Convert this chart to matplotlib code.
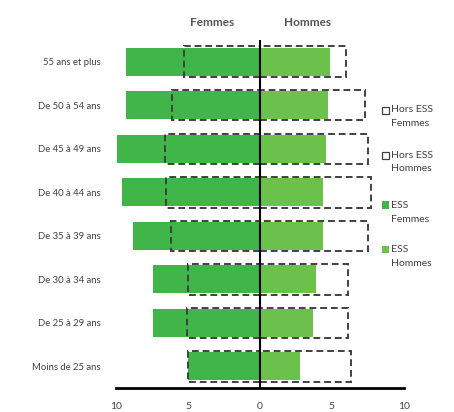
import numpy as np
import matplotlib
matplotlib.use("Agg")
import matplotlib.pyplot as plt
from matplotlib.patches import Rectangle

# tranches d'age (haut -> bas)
tranches = ["55 ans et plus", "De 50 à 54 ans", "De 45 à 49 ans", "De 40 à 44 ans",
            "De 35 à 39 ans", "De 30 à 34 ans", "De 25 à 29 ans", "Moins de 25 ans"]
ess_femmes = [9.3, 9.3, 9.9, 9.6, 8.8, 7.4, 7.4, 5.0]
hors_ess_femmes = [5.3, 6.1, 6.6, 6.5, 6.2, 5.0, 5.1, 5.0]
ess_hommes = [4.9, 4.7, 4.6, 4.4, 4.4, 3.9, 3.7, 2.8]
hors_ess_hommes = [6.0, 7.3, 7.5, 7.7, 7.5, 6.1, 6.1, 6.3]
ticks = [-10, -5, 0, 5, 10]
tick_labels = ["10", "5", "0", "5", "10"]
legende = ["Hors ESS\nFemmes", "Hors ESS\nHommes", "ESS\nFemmes", "ESS\nHommes"]

vert_f = "#3fb54a"
vert_h = "#6cc04c"
gris = "#404040"

plt.rcParams['font.family'] = ['Lato', 'DejaVu Sans']

fig = plt.figure(figsize=(4.54, 4.12), dpi=100)
ax = fig.add_axes([0.2555, 0.058, 0.634, 0.845])

y = np.arange(len(tranches))[::-1]

ax.barh(y, -np.array(ess_femmes), height=0.64, color=vert_f, zorder=1)
ax.barh(y, ess_hommes, height=0.64, color=vert_h, zorder=1)
ax.barh(y, -np.array(hors_ess_femmes), height=0.7, facecolor="none", edgecolor=gris,
        linestyle=(0, (3.5, 2)), linewidth=1.4, zorder=2)
ax.barh(y, hors_ess_hommes, height=0.7, facecolor="none", edgecolor=gris,
        linestyle=(0, (3.5, 2)), linewidth=1.4, zorder=2)

ax.axvline(0, color="black", linewidth=1.5, zorder=3)

ax.set_xlim(-10, 10)
ax.set_ylim(-0.5, 7.5)
ax.set_yticks(y)
ax.set_yticklabels(tranches, fontsize=6.8, color=gris)
ax.set_xticks(ticks)
ax.set_xticklabels(tick_labels, fontsize=7.5, color=gris)
ax.tick_params(axis="y", length=0, pad=11)
ax.tick_params(axis="x", length=0, pad=10)
for s in ["top", "right", "left"]:
    ax.spines[s].set_visible(False)
ax.spines["bottom"].set_linewidth(2)
ax.spines["bottom"].set_color("black")

ax.text(-3.3, 1.05, "Femmes", transform=ax.get_xaxis_transform(), ha="center",
        va="center", fontsize=8.5, color="#555555", fontweight="bold")
ax.text(3.3, 1.05, "Hommes", transform=ax.get_xaxis_transform(), ha="center",
        va="center", fontsize=8.5, color="#555555", fontweight="bold")

# legende a droite, marqueur aligne sur la premiere ligne
styles = [dict(facecolor="white", edgecolor=gris, linewidth=0.9),
          dict(facecolor="white", edgecolor=gris, linewidth=0.9),
          dict(facecolor=vert_f, edgecolor="none"),
          dict(facecolor=vert_h, edgecolor="none")]
ys = [110, 155, 205, 250]
for lab, st, yp in zip(legende, styles, ys):
    yf = 1 - yp / 412
    fig.patches.append(Rectangle((382 / 454, yf - 3.5 / 412), 7 / 454, 7 / 412,
                                 transform=fig.transFigure, **st))
    l1, l2 = lab.split("\n")
    fig.text(391 / 454, yf, l1, fontsize=7.5, color=gris, va="center", ha="left")
    fig.text(391 / 454, yf - 14 / 412, l2, fontsize=7.5, color=gris, va="center", ha="left")

fig.savefig("out.png", dpi=100)
